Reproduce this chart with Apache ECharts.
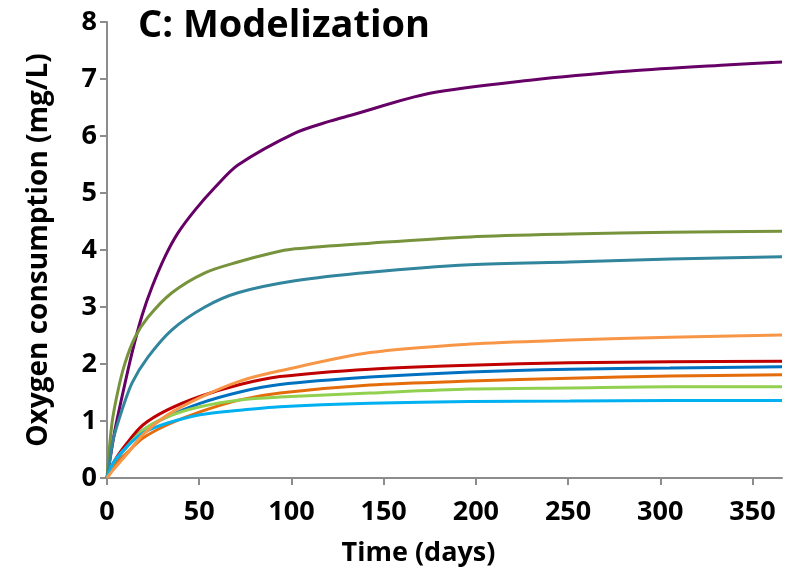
<!DOCTYPE html>
<html>
<head>
<meta charset="utf-8">
<script src="https://cdn.jsdelivr.net/npm/echarts@6/dist/echarts.min.js"></script>
<style>html,body{margin:0;padding:0;background:#fff}#c{width:785px;height:574px}</style>
</head>
<body>
<div id="c"></div>
<script>
const xTicks = [0, 50, 100, 150, 200, 250, 300, 350];
const yTicks = [0, 1, 2, 3, 4, 5, 6, 7, 8];

const daysPurple = [0, 4.3, 8.1, 13.6, 19, 24.4, 31.4, 38.5, 47.7, 58.6, 71, 101.9, 120.9, 131.8, 175.1, 229.4, 283.6, 337.8, 366];
const purple     = [0, 0.84, 1.42, 2.20, 2.85, 3.35, 3.88, 4.30, 4.70, 5.10, 5.49, 6.05, 6.26, 6.36, 6.75, 6.98, 7.14, 7.25, 7.30];

const daysOlive = [0, 2.7, 6, 9.8, 15.2, 22.2, 35.2, 53.1, 71, 88.4, 101.9, 142.6, 196.8, 251, 305.3, 366];
const olive     = [0, 0.96, 1.54, 2.02, 2.47, 2.82, 3.25, 3.60, 3.79, 3.94, 4.02, 4.12, 4.23, 4.28, 4.31, 4.33];

const daysTeal = [0, 1.6, 3.3, 8.1, 13.6, 22.2, 35.2, 53.1, 71, 101.9, 142.6, 196.8, 251, 305.3, 366];
const teal     = [0, 0.32, 0.67, 1.19, 1.67, 2.12, 2.60, 3.00, 3.25, 3.46, 3.61, 3.74, 3.79, 3.84, 3.88];

const daysLow     = [0, 3.3, 10.8, 19.5, 32.5, 50.4, 72.1, 93.8, 142.6, 196.8, 251, 305.3, 366];
const red         = [0, 0.26, 0.61, 0.93, 1.19, 1.43, 1.64, 1.78, 1.91, 1.98, 2.02, 2.04, 2.05];
const blue        = [0, 0.23, 0.55, 0.84, 1.07, 1.31, 1.51, 1.64, 1.77, 1.86, 1.91, 1.93, 1.95];
const darkOrange  = [0, 0.18, 0.44, 0.70, 0.93, 1.16, 1.37, 1.49, 1.63, 1.70, 1.75, 1.79, 1.81];
const lightGreen  = [0, 0.26, 0.55, 0.84, 1.07, 1.25, 1.37, 1.42, 1.49, 1.56, 1.58, 1.60, 1.60];
const cyan        = [0, 0.26, 0.55, 0.79, 0.96, 1.11, 1.19, 1.25, 1.31, 1.34, 1.35, 1.36, 1.36];
const lightOrange = [0, 0.14, 0.42, 0.76, 1.10, 1.41, 1.70, 1.88, 2.20, 2.35, 2.42, 2.47, 2.51];

const FONT = '"Open Sans", sans-serif';
function pairs(xs, ys) { return xs.map((x, i) => [x, ys[i]]); }
function line(name, xs, ys, color, w) {
  return {
    name, type: 'line', data: pairs(xs, ys), showSymbol: false, symbol: 'none',
    smooth: 0.3,
    lineStyle: { color, width: w || 3 }, itemStyle: { color }, z: 2
  };
}

const chart = echarts.init(document.getElementById('c'), null, { renderer: 'canvas' });
chart.setOption({
  animation: false,
  backgroundColor: '#ffffff',
  title: {
    text: 'C: Modelization', left: 133, top: 2,
    textStyle: { fontFamily: FONT, fontWeight: 'bold', fontSize: 38, color: '#000' }
  },
  grid: { left: 107, right: 3, top: 22, bottom: 96, containLabel: false },
  xAxis: {
    type: 'value', min: 0, max: 366, interval: 50,
    name: 'Time (days)', nameLocation: 'middle', nameGap: 62,
    nameTextStyle: { fontFamily: FONT, fontWeight: 'bold', fontSize: 27, color: '#000', padding: [0, 52, 0, 0] },
    axisLine: { show: true, lineStyle: { color: '#8c8c8c', width: 2 } },
    axisTick: { show: true, length: 7, lineStyle: { color: '#8c8c8c', width: 2 } },
    axisLabel: { fontFamily: FONT, fontWeight: 'bold', fontSize: 27, color: '#000', margin: 21, showMaxLabel: false,
      formatter: v => (xTicks.indexOf(v) >= 0 ? String(v) : '') },
    splitLine: { show: false }
  },
  yAxis: {
    type: 'value', min: 0, max: 8, interval: 1,
    name: 'Oxygen consumption (mg/L)', nameLocation: 'middle', nameGap: 54, nameRotate: 90,
    nameTextStyle: { fontFamily: FONT, fontWeight: 'bold', fontSize: 28, color: '#000' },
    axisLine: { show: true, lineStyle: { color: '#8c8c8c', width: 2 } },
    axisTick: { show: true, length: 7, lineStyle: { color: '#8c8c8c', width: 2 } },
    axisLabel: { fontFamily: FONT, fontWeight: 'bold', fontSize: 27, color: '#000', margin: 10,
      formatter: v => (yTicks.indexOf(v) >= 0 ? String(v) : '') },
    splitLine: { show: false }
  },
  series: [
    line('Purple', daysPurple, purple, '#660066', 3),
    line('Olive', daysOlive, olive, '#77933C', 3),
    line('Teal', daysTeal, teal, '#31859C', 3),
    line('Red', daysLow, red, '#C00000', 3),
    line('Blue', daysLow, blue, '#0070C0', 3),
    line('Dark orange', daysLow, darkOrange, '#E46C0A', 3),
    line('Light green', daysLow, lightGreen, '#92D050', 3),
    line('Cyan', daysLow, cyan, '#00B0F0', 3),
    line('Light orange', daysLow, lightOrange, '#F79646', 3)
  ]
});
</script>
</body>
</html>
